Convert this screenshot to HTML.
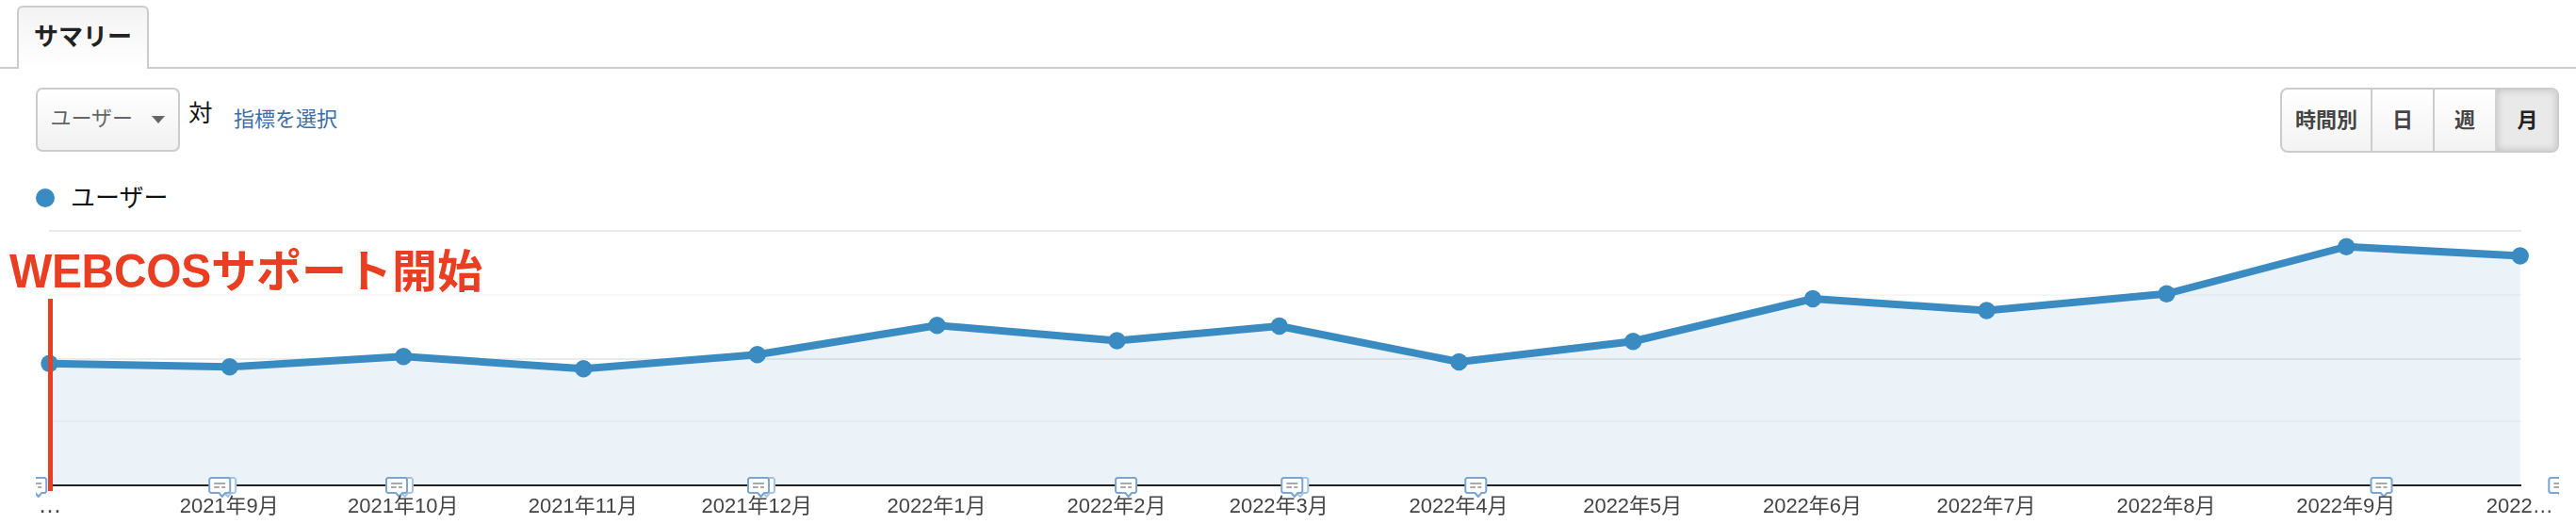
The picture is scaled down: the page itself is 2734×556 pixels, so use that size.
<!DOCTYPE html>
<html lang="ja">
<head>
<meta charset="utf-8">
<title>サマリー</title>
<style>
html,body{margin:0;padding:0;background:#fff;}
body{width:2734px;height:556px;position:relative;overflow:hidden;font-family:"Liberation Sans","Noto Sans CJK JP",sans-serif;color:#222;}
.abs{position:absolute;}
#tabline{left:0;top:71px;width:2734px;height:2px;background:#ccc;}
#tab{left:18px;top:6px;width:136px;height:65px;border:2px solid #ccc;border-bottom:none;border-radius:6px 6px 0 0;background:linear-gradient(#f3f3f3,#fff);font-weight:bold;font-size:26px;line-height:62px;text-align:center;color:#222;}
#sel{left:38px;top:93px;width:149px;height:64px;border:2px solid #ccc;border-radius:7px;background:linear-gradient(#fff,#f1f1f1);}
#sel span{position:absolute;left:13.5px;top:0;line-height:62px;font-size:22px;color:#666;}
#sel i{position:absolute;left:120.5px;top:28px;width:0;height:0;border-left:7.5px solid transparent;border-right:7.5px solid transparent;border-top:8.5px solid #666;}
#vs{left:200px;top:101.5px;font-size:25.5px;line-height:36px;color:#111;}
#pick{left:248px;top:109px;font-size:22px;line-height:36px;color:#3b6ea5;}
#seg{left:2420px;top:93px;width:292px;height:65px;border:2px solid #ccc;border-radius:8px;background:linear-gradient(#fff,#f3f3f3);display:flex;overflow:hidden;}
#seg div{box-sizing:border-box;flex:none;height:65px;line-height:66px;text-align:center;font-weight:bold;font-size:22px;color:#444;border-right:2px solid #ccc;}
#seg div.on{border-right:none;background:#e9e9e9;box-shadow:inset 0 0 9px rgba(0,0,0,.2);color:#222;}
#legdot{left:38px;top:200px;width:20px;height:20px;border-radius:50%;background:#3b8bc3;}
#leg{left:75px;top:192px;font-size:26px;line-height:36px;color:#111;}
#title{left:10px;top:257px;font-size:48px;line-height:64px;font-weight:bold;color:#e93e22;white-space:nowrap;letter-spacing:0;}
svg{position:absolute;left:0;top:0;}
svg text{font-family:"Liberation Sans","Noto Sans CJK JP",sans-serif;font-size:22px;fill:#444;text-anchor:middle;}
</style>
</head>
<body>
<div id="tabline" class="abs"></div>
<div id="tab" class="abs">サマリー</div>
<div id="sel" class="abs"><span>ユーザー</span><i></i></div>
<div id="vs" class="abs">対</div>
<div id="pick" class="abs">指標を選択</div>
<div id="seg" class="abs"><div style="width:96px">時間別</div><div style="width:66px">日</div><div style="width:66px;border-right-color:#d2d2d2">週</div><div class="on" style="width:64px;padding-left:1px">月</div></div>
<div id="legdot" class="abs"></div>
<div id="leg" class="abs">ユーザー</div>
<svg width="2734" height="556" viewBox="0 0 2734 556">
<defs>
<path id="bub" d="M2.5,1 H21.5 L23,2.5 V15.5 L21.5,17 H18 L14.6,21 L11.2,17 H2.5 L1,15.5 V2.5 Z" fill="#fff" stroke="#7aa6d1" stroke-width="2" stroke-linejoin="round"/>
<path id="bub2" d="M2.5,1 H21.5 L23,2.5 V15.5 L21.5,17 H18 L14.6,21 L11.2,17 H2.5 L1,15.5 V2.5 Z" fill="#fff" stroke="#a4c5e6" stroke-width="2" stroke-linejoin="round"/>
<g id="lines" stroke="#aaa" stroke-width="2"><path d="M6,7 H18 M6,11 H11.7 M14,11 H18"/></g>
<filter id="soft" x="-10%" y="-10%" width="120%" height="120%"><feGaussianBlur stdDeviation="0.45"/></filter>
<clipPath id="cp"><rect x="38" y="0" width="2678" height="556"/></clipPath>
</defs>
<g stroke="#ebebeb" stroke-width="2">
<line x1="52" x2="2676" y1="245" y2="245"/>
<line x1="52" x2="2676" y1="313" y2="313" stroke="#f7f7f7"/>
<line x1="52" x2="2676" y1="381" y2="381"/>
<line x1="52" x2="2676" y1="447" y2="447" stroke="#f7f7f7"/>
</g>
<path d="M52.5,515 L52.5,385.75 L243.75,389.25 L428.25,378.25 L619.25,391.25 L803.75,376.25 L994.5,345.25 L1185.5,361.5 L1357.75,346 L1548.5,384 L1733.25,362.25 L1924,317 L2108.5,329.5 L2299.5,311.75 L2490.25,261.75 L2674.75,271.5 L2674.75,515 Z" fill="#3b8bc3" fill-opacity="0.1"/>
<line x1="52" x2="2676" y1="515" y2="515" stroke="#222" stroke-width="2.2"/>
<polyline points="52.5,385.75 243.75,389.25 428.25,378.25 619.25,391.25 803.75,376.25 994.5,345.25 1185.5,361.5 1357.75,346 1548.5,384 1733.25,362.25 1924,317 2108.5,329.5 2299.5,311.75 2490.25,261.75 2674.75,271.5" fill="none" stroke="#3b8bc3" stroke-width="8" stroke-linejoin="round" stroke-linecap="round"/>
<g fill="#3b8bc3">
<circle cx="52.5" cy="385.75" r="9.2"/>
<circle cx="243.75" cy="389.25" r="9.2"/>
<circle cx="428.25" cy="378.25" r="9.2"/>
<circle cx="619.25" cy="391.25" r="9.2"/>
<circle cx="803.75" cy="376.25" r="9.2"/>
<circle cx="994.5" cy="345.25" r="9.2"/>
<circle cx="1185.5" cy="361.5" r="9.2"/>
<circle cx="1357.75" cy="346" r="9.2"/>
<circle cx="1548.5" cy="384" r="9.2"/>
<circle cx="1733.25" cy="362.25" r="9.2"/>
<circle cx="1924" cy="317" r="9.2"/>
<circle cx="2108.5" cy="329.5" r="9.2"/>
<circle cx="2299.5" cy="311.75" r="9.2"/>
<circle cx="2490.25" cy="261.75" r="9.2"/>
<circle cx="2674.75" cy="271.5" r="9.2"/>
</g>
<g clip-path="url(#cp)"><g filter="url(#soft)">
<g transform="translate(26.2,506)"><use href="#bub"/><use href="#lines"/></g>
<g transform="translate(221.2,506)"><use href="#bub2" x="6" y="0"/><use href="#bub"/><use href="#lines"/></g>
<g transform="translate(409.0,506)"><use href="#bub2" x="6" y="0"/><use href="#bub"/><use href="#lines"/></g>
<g transform="translate(793.0,506)"><use href="#bub2" x="6" y="0"/><use href="#bub"/><use href="#lines"/></g>
<g transform="translate(1183.1,506)"><use href="#bub"/><use href="#lines"/></g>
<g transform="translate(1359.3,506)"><use href="#bub2" x="6" y="0"/><use href="#bub"/><use href="#lines"/></g>
<g transform="translate(1554.3,506)"><use href="#bub"/><use href="#lines"/></g>
<g transform="translate(2515.5,506)"><use href="#bub"/><use href="#lines"/></g>
<g transform="translate(2704.3,506)"><use href="#bub"/><use href="#lines"/></g>
</g></g>
<rect x="51" y="317" width="5" height="204" fill="#e93e22"/>
<text x="53.1" y="544" style="font-size:25px">…</text>
<text x="243.25" y="544">2021年9月</text>
<text x="427.75" y="544">2021年10月</text>
<text x="618.75" y="544">2021年11月</text>
<text x="803.25" y="544">2021年12月</text>
<text x="994.0" y="544">2022年1月</text>
<text x="1185.0" y="544">2022年2月</text>
<text x="1357.25" y="544">2022年3月</text>
<text x="1548.0" y="544">2022年4月</text>
<text x="1732.75" y="544">2022年5月</text>
<text x="1923.5" y="544">2022年6月</text>
<text x="2108.0" y="544">2022年7月</text>
<text x="2299.0" y="544">2022年8月</text>
<text x="2489.75" y="544">2022年9月</text>
<text x="2674.25" y="544">2022…</text>
</svg>
<div id="title" class="abs"><span style="letter-spacing:-0.35px;display:inline-block;transform:scaleY(1.043);transform-origin:0 75%">WEBCOS</span>サポート開始</div>
</body>
</html>
